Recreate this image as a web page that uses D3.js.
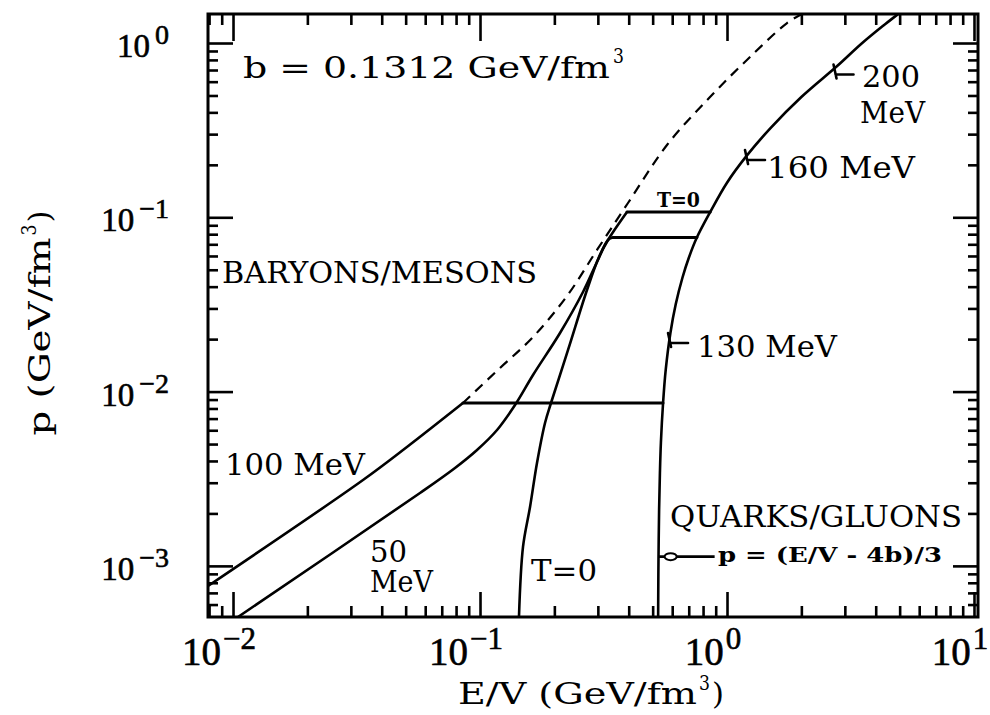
<!DOCTYPE html>
<html><head><meta charset="utf-8">
<script src="https://cdn.jsdelivr.net/npm/d3@7"></script>
<style>
html,body{margin:0;padding:0;background:#fff;}
svg{display:block;}
</style></head>
<body>
<svg id="chart" width="990" height="715"></svg>
<script>
// Axis extents, GeV/fm^3
const energyDomain = [0.00792, 10.38];
const pressureDomain = [0.000509, 1.467];
const xDecades = [-2, -1, 0, 1];
const yDecades = [-3, -2, -1, 0];
const bagConstant = "0.1312";

// Hadron-phase isotherms, [E/V, p]
const iso100 = [[0.00792,0.000767],[0.0336,0.00311],[0.0506,0.00481],[0.0853,0.0086]];
const iso50 = [[0.01047,0.000509],[0.05715,0.002619],[0.07921,0.003645],[0.09725,0.004623],[0.1172,0.006021],
  [0.1386,0.008377],[0.1639,0.01245],[0.2108,0.02169],[0.2612,0.03727],[0.2976,0.05539],[0.3298,0.0741],[0.3455,0.0765]];
const isoT0 = [[0.1438,0.000509],[0.1493,0.001284],[0.1594,0.002178],[0.1701,0.003895],[0.1833,0.006607],
  [0.1938,0.0086],[0.2272,0.01733],[0.2711,0.03827],[0.3032,0.05919],[0.3298,0.0741],[0.3936,0.1072]];
// Hadron gas continued beyond the transition (dashed)
const hadronDashed = [[0.0853,0.0086],[0.1205,0.01366],[0.1639,0.02057],[0.2250,0.03535],[0.2976,0.06494],
  [0.3973,0.1208],[0.5715,0.2600],[0.8535,0.4899],[1.239,0.8312],[1.750,1.302],[2.012,1.467]];
// Quark-gluon phase, p = (E/V - 4b)/3
const qgpLine = [[0.5253,0.0002],[0.5265,0.0006],[0.528,0.0011],[0.531,0.0021],[0.535,0.0034],[0.540,0.0051],
  [0.551,0.0086],[0.565,0.0134],[0.59,0.0217],[0.62,0.0317],[0.66,0.045],[0.70,0.0584],[0.755,0.0765],
  [0.855,0.1072],[1.0,0.158],[1.2,0.225],[1.5,0.325],[2.0,0.49],[2.8,0.74],[3.5,0.99],[4.3,1.26],[5.0,1.49],[5.5,1.66]];
// Mixed-phase plateaus: [p, E/V start, E/V end]
const plateaus = [[0.0086,0.0853,0.5506],[0.0765,0.3455,0.755],[0.1072,0.3936,0.855]];
// Temperature marks on the quark-gluon line: [E/V, p]
const qgpMarks = [[0.588,0.0190],[1.205,0.213],[2.75,0.66]];
const arrowP = 0.00113;

const svg = d3.select("#chart");
const L = 208, R = 978, T = 14, B = 617;
const x = d3.scaleLog().domain(energyDomain).range([L, R]);
const y = d3.scaleLog().domain(pressureDomain).range([B, T]);

const face = "'DejaVu Serif', 'Liberation Serif', serif";
const numFace = "'Liberation Serif', 'DejaVu Serif', serif";

function minorTicks(domain) {
  const out = [];
  for (let k = -4; k <= 1; k++) for (let m = 2; m <= 9; m++) {
    const v = m * Math.pow(10, k);
    if (v > domain[0] && v < domain[1]) out.push(v);
  }
  return out;
}
const xMajor = xDecades.map(d => Math.pow(10, d));
const yMajor = yDecades.map(d => Math.pow(10, d));

function addAxis(gen, tx, ty) {
  const g = svg.append("g").attr("transform", `translate(${tx},${ty})`).call(gen);
  g.select(".domain").remove();
  g.selectAll("line").attr("stroke", "#000").attr("stroke-width", 2.6);
  g.selectAll("text").remove();
}
// inward ticks on all four sides
addAxis(d3.axisTop(x).tickValues(xMajor).tickSize(25).tickFormat(""), 0, B);
addAxis(d3.axisTop(x).tickValues(minorTicks(energyDomain)).tickSize(11).tickFormat(""), 0, B);
addAxis(d3.axisBottom(x).tickValues(xMajor).tickSize(27).tickFormat(""), 0, T);
addAxis(d3.axisBottom(x).tickValues(minorTicks(energyDomain)).tickSize(11).tickFormat(""), 0, T);
addAxis(d3.axisRight(y).tickValues(yMajor).tickSize(25).tickFormat(""), L, 0);
addAxis(d3.axisRight(y).tickValues(minorTicks(pressureDomain)).tickSize(10).tickFormat(""), L, 0);
addAxis(d3.axisLeft(y).tickValues(yMajor).tickSize(25).tickFormat(""), R, 0);
addAxis(d3.axisLeft(y).tickValues(minorTicks(pressureDomain)).tickSize(10).tickFormat(""), R, 0);

svg.append("rect").attr("x", L).attr("y", T).attr("width", R - L).attr("height", B - T)
  .attr("fill", "none").attr("stroke", "#000").attr("stroke-width", 3);

// text helper: a run of tspans, each squeezed to a set width
function runs(tx, ty, parts, anchor, transform, family) {
  const t = svg.append("text").attr("x", tx).attr("y", ty).attr("font-family", family || face)
    .attr("text-anchor", anchor || "start");
  if (transform) t.attr("transform", transform);
  parts.forEach(p => {
    const s = t.append("tspan").attr("font-size", p.size).text(p.text);
    if (p.width) s.attr("textLength", p.width).attr("lengthAdjust", "spacingAndGlyphs");
    if (p.weight) s.attr("font-weight", p.weight);
    if (p.x !== undefined) s.attr("x", p.x);
    if (p.dy) s.attr("dy", p.dy);
    if (p.dx) s.attr("dx", p.dx);
  });
  return t;
}

// tick labels
const expText = d => d < 0 ? "\u2212" + (-d) : String(d);
xDecades.forEach(d => {
  runs(x(Math.pow(10, d)) - 14, 665, [
    {text: "10", size: 39},
    {text: expText(d), size: 31, dy: -16, dx: 2}
  ], "middle", null, numFace).attr("stroke", "#000").attr("stroke-width", 0.6);
});
yDecades.forEach(d => {
  runs(169, y(Math.pow(10, d)) + 14, [
    {text: "10", size: 33},
    {text: expText(d), size: 28, dy: -13, dx: 5}
  ], "end", null, numFace).attr("stroke", "#000").attr("stroke-width", 0.6);
});

// axis titles
runs(458, 704, [
  {text: "E/V (GeV/fm", size: 30, width: 239},
  {text: "3", size: 21, width: 11, dy: -14, dx: 2},
  {text: ")", size: 30, width: 12, dy: 14, dx: 2}
]);
runs(0, 0, [
  {text: "p (GeV/fm", size: 30, width: 198},
  {text: "3", size: 21, width: 11, dy: -14, dx: 2},
  {text: ")", size: 30, width: 12, dy: 14, dx: 2}
], "middle", "translate(50,323) rotate(-90)");

// curves
svg.append("clipPath").attr("id", "plot").append("rect")
  .attr("x", L).attr("y", T).attr("width", R - L).attr("height", B - T);
const plot = svg.append("g").attr("clip-path", "url(#plot)");
const smooth = d3.line().x(d => x(d[0])).y(d => y(d[1])).curve(d3.curveCatmullRom.alpha(0.5));
const straight = d3.line().x(d => x(d[0])).y(d => y(d[1]));
const curveStyle = sel => sel.attr("fill", "none").attr("stroke", "#000").attr("stroke-width", 2.6)
  .attr("stroke-linejoin", "round").attr("stroke-linecap", "round");

plot.append("path").attr("d", smooth(iso100)).call(curveStyle);
plot.append("path").attr("d", smooth(iso50)).call(curveStyle);
plot.append("path").attr("d", smooth(isoT0)).call(curveStyle);
plot.append("path").attr("d", smooth(qgpLine)).call(curveStyle);
plot.append("path").attr("d", smooth(hadronDashed)).call(curveStyle)
  .attr("stroke-width", 2.2).attr("stroke-dasharray", "10,7").attr("stroke-linecap", "butt");
plateaus.forEach(p => {
  plot.append("path").attr("d", straight([[p[1], p[0]], [p[2], p[0]]])).call(curveStyle).attr("stroke-width", 3);
});

// temperature marks on the quark-gluon line
qgpMarks.forEach(m => {
  const px = x(m[0]), py = y(m[1]);
  svg.append("path").attr("d", `M${px - 2},${py - 10}L${px + 1},${py + 4}M${px},${py}L${px + 18},${py}`)
    .call(curveStyle);
});

// arrow to p = (E/V - 4b)/3
const ay = y(arrowP);
const ax = x(0.5253 + 3 * arrowP);
svg.append("line").attr("x1", ax).attr("x2", ax + 56).attr("y1", ay).attr("y2", ay)
  .attr("stroke", "#000").attr("stroke-width", 2.6);
svg.append("ellipse").attr("cx", ax + 12).attr("cy", ay).attr("rx", 6).attr("ry", 3.5)
  .attr("fill", "#fff").attr("stroke", "#000").attr("stroke-width", 2);

// labels
const label = (tx, ty, s, w, size, weight) => runs(tx, ty, [{text: s, size: size || 30, width: w, weight: weight}]);
runs(243, 78, [
  {text: "b = " + bagConstant + " GeV/fm", size: 30, width: 367},
  {text: "3", size: 21, width: 11, dy: -15, dx: 3}
]);
label(222, 283, "BARYONS/MESONS", 315);
label(225, 475, "100 MeV", 140);
runs(370, 562, [{text: "50", size: 30, width: 37}, {text: "MeV", size: 30, width: 63, x: 370, dy: 30}]);
label(531, 581, "T=0", 66);
label(670, 527, "QUARKS/GLUONS", 292);
label(718, 562, "p = (E/V - 4b)/3", 224, 20, "bold");
label(657, 207, "T=0", 43, 20, "bold");
label(697, 357, "130 MeV", 140);
label(767, 178, "160 MeV", 148);
runs(862, 87, [{text: "200", size: 30, width: 58}, {text: "MeV", size: 30, width: 65, x: 860, dy: 36}]);
</script>
</body></html>
